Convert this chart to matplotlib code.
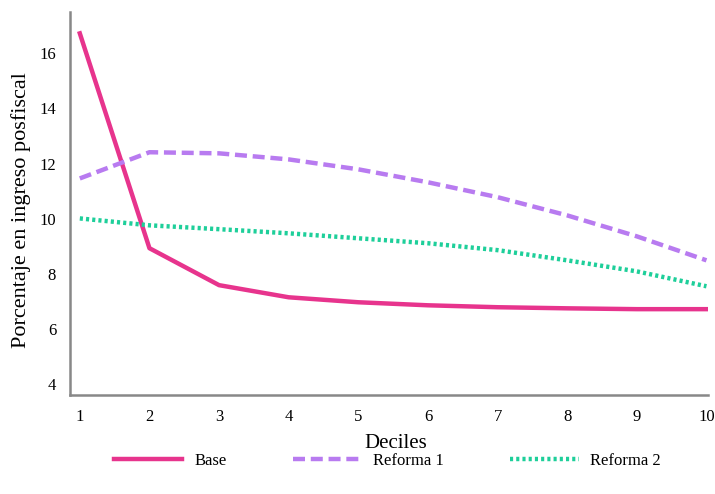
import numpy as np
import matplotlib.pyplot as plt

plt.rcParams['font.family'] = ['Liberation Serif', 'DejaVu Serif']

deciles = np.arange(1, 11)
base = [16.72, 8.93, 7.59, 7.15, 6.97, 6.86, 6.79, 6.75, 6.72, 6.72]
reforma1 = [11.46, 12.41, 12.37, 12.15, 11.79, 11.32, 10.78, 10.12, 9.36, 8.49]
reforma2 = [10.01, 9.76, 9.62, 9.47, 9.29, 9.11, 8.86, 8.49, 8.09, 7.55]

fig = plt.figure(figsize=(7.15, 4.94), dpi=100)
ax = fig.add_axes([0.098, 0.2, 0.892, 0.776])

ax.plot(deciles, base, color='#e7348d', lw=3.2, label='Base')
ax.plot(deciles, reforma1, color='#b87bf0', lw=3.2, dashes=(2.7, 1.3), label='Reforma 1')
ax.plot(deciles, reforma2, color='#1ecf9a', lw=3.2, dashes=(0.7, 0.7), label='Reforma 2')

ax.set_xlim(0.86, 10.02)
ax.set_ylim(3.6, 17.5)
ax.set_xticks(deciles)
ax.set_yticks([4, 6, 8, 10, 12, 14, 16])
ax.tick_params(length=0, labelsize=12, pad=10)
for s in ['top', 'right']:
    ax.spines[s].set_visible(False)
for s in ['left', 'bottom']:
    ax.spines[s].set_color('#888888')
    ax.spines[s].set_linewidth(1.8)

ax.set_xlabel('Deciles', fontsize=15)
ax.set_ylabel('Porcentaje en ingreso posfiscal', fontsize=16)
ax.xaxis.set_label_coords(0.51, -0.1)
ax.yaxis.set_label_coords(-0.062, 0.483)

fig.legend(loc='center', ncol=3, frameon=False, fontsize=12,
           handlelength=4.1, handletextpad=0.7, columnspacing=4.0,
           bbox_to_anchor=(0.542, 0.067))

fig.savefig('out.png', dpi=100)
